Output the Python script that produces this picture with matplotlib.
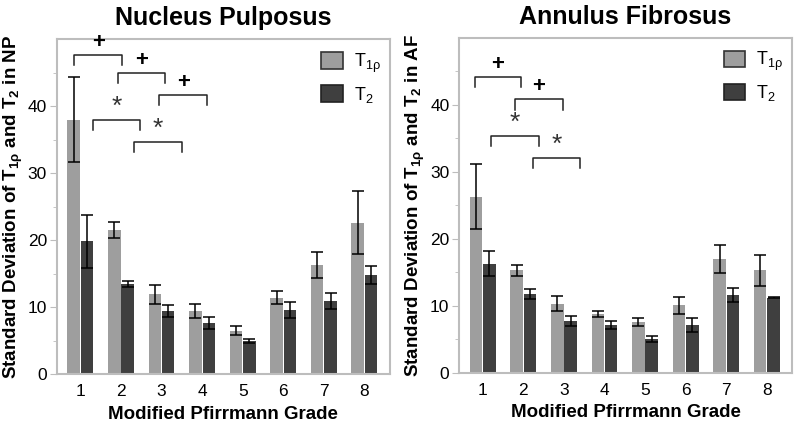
import matplotlib
matplotlib.use("Agg")
import matplotlib.pyplot as plt
from matplotlib.patches import Patch
import numpy as np

plt.rcParams['font.family'] = ['Liberation Sans', 'DejaVu Sans']
plt.rcParams['mathtext.fontset'] = 'custom'
plt.rcParams['mathtext.rm'] = 'Liberation Sans'
plt.rcParams['mathtext.it'] = 'Liberation Sans:italic'
plt.rcParams['mathtext.bf'] = 'Liberation Sans:bold'

grades = [1, 2, 3, 4, 5, 6, 7, 8]

# Nucleus pulposus
np_t1rho = [38.0, 21.5, 11.9, 9.4, 6.5, 11.4, 16.3, 22.6]
np_t1rho_err = [6.4, 1.25, 1.4, 1.0, 0.7, 0.95, 1.95, 4.7]
np_t2 = [19.8, 13.5, 9.4, 7.6, 4.9, 9.6, 10.9, 14.8]
np_t2_err = [3.9, 0.45, 0.95, 0.85, 0.3, 1.2, 1.2, 1.3]

# Annulus fibrosus
af_t1rho = [26.3, 15.3, 10.3, 8.8, 7.6, 10.1, 17.0, 15.3]
af_t1rho_err = [4.8, 0.85, 1.1, 0.5, 0.6, 1.25, 2.1, 2.3]
af_t2 = [16.3, 11.7, 7.8, 7.2, 5.1, 7.2, 11.6, 11.2]
af_t2_err = [1.9, 0.75, 0.75, 0.6, 0.45, 1.05, 1.1, 0.1]

# significance brackets: (x start, x end, height, symbol)
np_brackets = [(0.85, 2.03, 47.6, '+'), (1.92, 3.09, 45.0, '+'), (2.95, 4.13, 41.6, '+'),
               (1.30, 2.48, 38.0, '*'), (2.33, 3.50, 34.7, '*')]
af_brackets = [(0.80, 1.95, 44.1, '+'), (1.80, 2.97, 40.8, '+'),
               (1.21, 2.38, 35.4, '*'), (2.24, 3.40, 32.1, '*')]

light = '#9e9e9e'
dark = '#3f3f3f'
spine_col = '#bdbdbd'


def draw_panel(ax, t1, t1e, t2, t2e, brackets, title, region):
    x = np.array(grades)
    w = 0.31
    ax.bar(x - w / 2 - 0.01, t1, w, color=light, zorder=2)
    ax.bar(x + w / 2 + 0.01, t2, w, color=dark, zorder=2)
    ax.errorbar(x - w / 2 - 0.01, t1, yerr=t1e, fmt='none', ecolor='black',
                elinewidth=1.1, capsize=4.5, capthick=1.1, zorder=3)
    ax.errorbar(x + w / 2 + 0.01, t2, yerr=t2e, fmt='none', ecolor='black',
                elinewidth=1.1, capsize=4.5, capthick=1.1, zorder=3)

    for x0, x1, h, sym in brackets:
        ax.plot([x0, x0, x1, x1], [h - 1.5, h, h, h - 1.5], color='#222222', lw=1.1)
        if sym == '+':
            ax.text((x0 + x1) / 2, h + 0.3, '+', ha='center', va='bottom',
                    fontsize=16, fontweight='bold')
        else:
            ax.text((x0 + x1) / 2, h + 0.1, '*', ha='center', va='bottom',
                    fontsize=19, color='#333333')

    ax.set_xlim(0.42, 8.62)
    ax.set_ylim(0, 50)
    ax.set_xticks(grades)
    ax.set_yticks([0, 10, 20, 30, 40])
    ax.set_yticks([5, 15, 25, 35, 45], minor=True)
    ax.tick_params(axis='x', length=0, labelsize=12.5, pad=7)
    ax.tick_params(axis='y', which='major', length=5, color=spine_col, labelsize=12.5, pad=2)
    ax.tick_params(axis='y', which='minor', length=3, color=spine_col)
    for s in ax.spines.values():
        s.set_color(spine_col)
        s.set_linewidth(1.5)

    ax.set_title(title, fontsize=18, fontweight='bold', pad=10)
    ax.set_xlabel('Modified Pfirrmann Grade', fontsize=13.5, fontweight='bold', labelpad=5)
    ax.set_ylabel(r'Standard Deviation of T$_{\mathbf{1ρ}}$ and T$_{\mathbf{2}}$ in ' + region,
                  fontsize=13.5, fontweight='bold', labelpad=2)

    handles = [Patch(facecolor=light, edgecolor='#333333', lw=1.2),
               Patch(facecolor=dark, edgecolor='#222222', lw=1.2)]
    ax.legend(handles, [r'T$_{\mathrm{1ρ}}$', r'T$_{\mathrm{2}}$'], loc='upper right',
              frameon=False, fontsize=13, handlelength=1.2, handleheight=1.0,
              labelspacing=0.55, handletextpad=0.6, borderaxespad=0.1,
              bbox_to_anchor=(1.0, 0.99))


fig = plt.figure(figsize=(8, 4.3), dpi=100)
ax1 = fig.add_axes([0.071, 0.130, 0.416, 0.779])
ax2 = fig.add_axes([0.574, 0.133, 0.416, 0.779])

draw_panel(ax1, np_t1rho, np_t1rho_err, np_t2, np_t2_err, np_brackets, 'Nucleus Pulposus', 'NP')
draw_panel(ax2, af_t1rho, af_t1rho_err, af_t2, af_t2_err, af_brackets, 'Annulus Fibrosus', 'AF')

fig.savefig('out.png', dpi=100)
plt.close(fig)
